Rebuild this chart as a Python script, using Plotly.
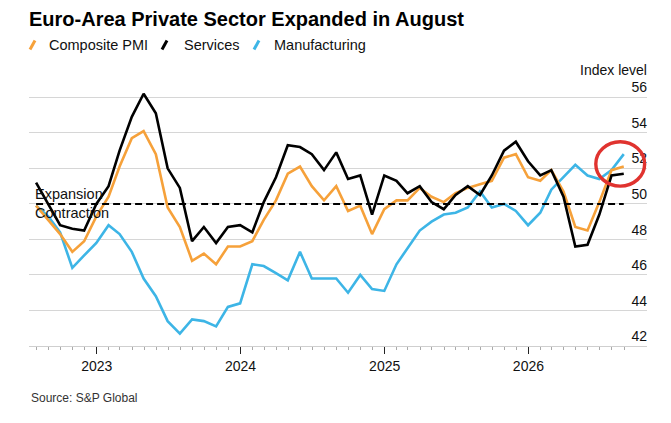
import pandas as pd
import plotly.graph_objects as go

# monthly readings, Jul 2022 - Aug 2026 (plotted at month end)
months = pd.date_range("2022-07-31", periods=50, freq="ME")

composite = [49.9, 49.1, 48.3, 47.3, 47.9, 49.3, 50.4, 52.1, 53.7, 54.1,
             52.8, 49.8, 48.7, 46.8, 47.2, 46.6, 47.6, 47.6, 47.9, 49.1,
             50.2, 51.7, 52.1, 51.0, 50.2, 51.0, 49.6, 49.9, 48.3, 49.7,
             50.2, 50.2, 50.9, 50.4, 50.1, 50.6, 50.9, 51.1, 51.3, 52.6,
             52.8, 51.5, 51.3, 51.9, 50.7, 48.7, 48.5, 50.1, 51.9, 52.1]

services = [51.2, 50.0, 48.8, 48.6, 48.5, 50.0, 51.0, 53.0, 54.9, 56.2,
            55.1, 52.0, 50.9, 47.9, 48.7, 47.8, 48.7, 48.8, 48.4, 50.1,
            51.5, 53.3, 53.2, 52.8, 51.9, 52.9, 51.4, 51.6, 49.4, 51.6,
            51.3, 50.6, 51.0, 50.1, 49.7, 50.5, 51.0, 50.5, 51.6, 53.0,
            53.5, 52.4, 51.6, 51.9, 50.4, 47.6, 47.7, 49.4, 51.6, 51.7]

manufacturing = [49.9, 49.3, 48.4, 46.4, 47.1, 47.8, 48.8, 48.3, 47.3, 45.8,
                 44.8, 43.4, 42.7, 43.5, 43.4, 43.1, 44.2, 44.4, 46.6, 46.5,
                 46.1, 45.7, 47.3, 45.8, 45.8, 45.8, 45.0, 46.0, 45.2, 45.1,
                 46.6, 47.5, 48.5, 49.0, 49.4, 49.5, 49.8, 50.7, 49.8, 50.0,
                 49.6, 48.8, 49.5, 50.8, 51.5, 52.2, 51.6, 51.4, 51.9, 52.8]

y_ticks = [42, 44, 46, 48, 50, 52, 54, 56]

ORANGE = "#f6a13a"
BLACK = "#000000"
BLUE = "#3db5e6"
FONT = "Liberation Sans"

# page body has an 8px margin, so the figure is drawn 8px smaller and offset
OFF = 8
W, H = 671 - OFF, 423 - OFF
PLOT_L, PLOT_R, PLOT_T, PLOT_B = 29, 647, 76.4, 346   # plot box in screen px


def px(x):
    return (x - PLOT_L) / (PLOT_R - PLOT_L)


def py(y):
    return (PLOT_B - y) / (PLOT_B - PLOT_T)


fig = go.Figure()
fig.add_trace(go.Scatter(x=months, y=manufacturing, mode="lines", name="Manufacturing",
                         line=dict(color=BLUE, width=2.6)))
fig.add_trace(go.Scatter(x=months, y=composite, mode="lines", name="Composite PMI",
                         line=dict(color=ORANGE, width=2.6)))
fig.add_trace(go.Scatter(x=months, y=services, mode="lines", name="Services",
                         line=dict(color=BLACK, width=2.6)))

# expansion / contraction threshold
fig.add_shape(type="line", xref="x", yref="y", x0=months[0], x1=months[-1], y0=50, y1=50,
              line=dict(color="black", width=2, dash="7px,4px"))

# red highlight around latest readings
fig.add_shape(type="circle", xref="x", yref="y", x0="2026-06-21", x1="2026-10-23",
              y0=51.0, y1=53.5, line=dict(color="#e0332f", width=3.4))

fig.add_annotation(x=months[0], y=50, xref="x", yref="y", text="Expansion",
                   showarrow=False, xanchor="left", yanchor="bottom", xshift=-3, yshift=0,
                   font=dict(family=FONT, size=14.5, color="#111"))
fig.add_annotation(x=months[0], y=50, xref="x", yref="y", text="Contraction",
                   showarrow=False, xanchor="left", yanchor="top", xshift=-3, yshift=1,
                   font=dict(family=FONT, size=14.5, color="#111"))

# legend drawn by hand (slash markers)
legend_items = [("Composite PMI", ORANGE, 30, 47), ("Services", BLACK, 162, 182),
                ("Manufacturing", BLUE, 254, 272)]
for label, color, icon_x, text_x in legend_items:
    fig.add_shape(type="line", xref="paper", yref="paper",
                  x0=px(icon_x), x1=px(icon_x + 5), y0=py(50), y1=py(41),
                  line=dict(color=color, width=3))
    fig.add_annotation(x=px(text_x), y=py(45), xref="paper", yref="paper",
                       text=label, showarrow=False, xanchor="left", yanchor="middle",
                       font=dict(family=FONT, size=14.5, color="#111"))

fig.add_annotation(x=1, y=py(70), xref="paper", yref="paper", text="Index level",
                   showarrow=False, xanchor="right", yanchor="middle", xshift=2,
                   font=dict(family=FONT, size=14, color="#111"))
fig.add_annotation(x=0, y=py(398), xref="paper", yref="paper",
                   text="Source: S&P Global", showarrow=False, xanchor="left", yanchor="middle",
                   font=dict(family=FONT, size=12, color="#333"))

fig.update_layout(
    width=W, height=H,
    margin=dict(l=PLOT_L - OFF, r=W - (PLOT_R - OFF), t=PLOT_T - OFF, b=H - (PLOT_B - OFF)),
    paper_bgcolor="white", plot_bgcolor="white",
    showlegend=False,
    title=dict(text="<b>Euro-Area Private Sector Expanded in August</b>",
               x=(29 - OFF) / W, xanchor="left", xref="container",
               y=1 - (19 - OFF) / H, yanchor="middle", yref="container",
               font=dict(family=FONT, size=20, color="#000")),
    xaxis=dict(
        type="date", range=["2022-07-13", "2026-10-29"],
        tickformat="%Y", dtick="M12", tick0="2023-01-01",
        ticks="outside", ticklen=7, tickcolor="#222", tickwidth=1,
        minor=dict(dtick="M1", ticks="outside", ticklen=3, tickcolor="#aaa", showgrid=False),
        showline=True, linecolor="#cfcfcf", linewidth=1.3,
        showgrid=False, zeroline=False,
        tickfont=dict(family=FONT, size=14, color="#111"),
    ),
    yaxis=dict(
        range=[42, 57.2], tickvals=y_ticks, side="right",
        ticklabelposition="inside top", ticklabelstandoff=-3, ticks="",
        showgrid=True, gridcolor="#d6d6d6", gridwidth=1.3,
        zeroline=False, showline=False,
        tickfont=dict(family=FONT, size=14, color="#111"),
    ),
)

fig.write_html("out.html")
